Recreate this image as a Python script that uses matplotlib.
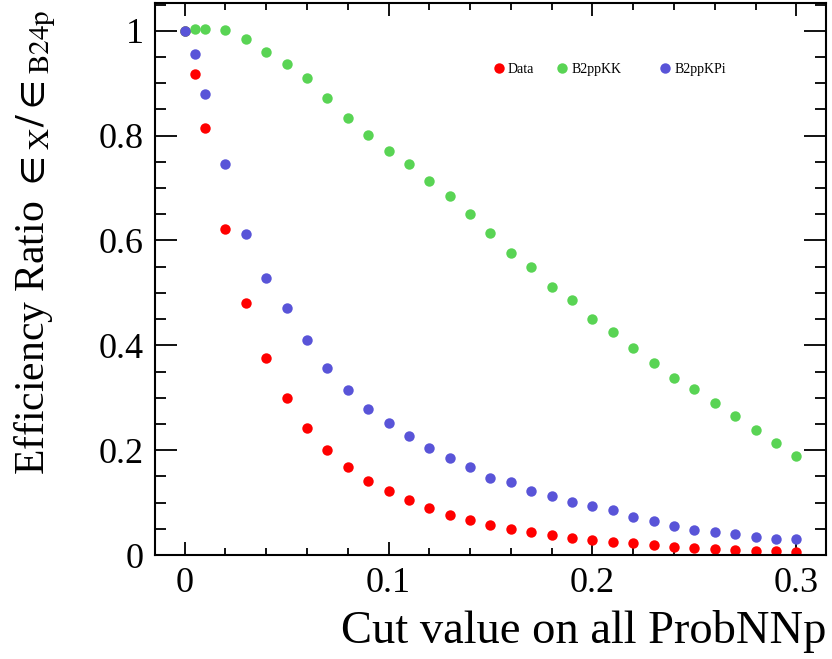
import matplotlib
matplotlib.use("Agg")
import matplotlib.pyplot as plt
from matplotlib.ticker import MultipleLocator
from matplotlib.legend import Legend

plt.rcParams["font.family"] = ["Liberation Serif", "DejaVu Serif"]
plt.rcParams["mathtext.fontset"] = "stix"

# --- dane ---
cut = [0.0, 0.005, 0.01, 0.02, 0.03, 0.04, 0.05, 0.06, 0.07, 0.08, 0.09, 0.10,
       0.11, 0.12, 0.13, 0.14, 0.15, 0.16, 0.17, 0.18, 0.19, 0.20, 0.21, 0.22,
       0.23, 0.24, 0.25, 0.26, 0.27, 0.28, 0.29, 0.30]

data = [1.0, 0.918, 0.815, 0.621, 0.480, 0.375, 0.299, 0.242, 0.200, 0.168,
        0.141, 0.122, 0.105, 0.090, 0.076, 0.067, 0.057, 0.050, 0.044, 0.038,
        0.032, 0.029, 0.025, 0.023, 0.019, 0.015, 0.013, 0.011, 0.010, 0.008,
        0.007, 0.006]

b2ppkk = [1.0, 1.003, 1.004, 1.002, 0.985, 0.960, 0.937, 0.910, 0.872, 0.834,
          0.802, 0.771, 0.745, 0.714, 0.684, 0.651, 0.615, 0.577, 0.549, 0.512,
          0.486, 0.451, 0.425, 0.394, 0.366, 0.337, 0.316, 0.290, 0.265, 0.238,
          0.213, 0.189]

b2ppkpi = [1.0, 0.956, 0.880, 0.745, 0.613, 0.528, 0.472, 0.410, 0.356, 0.314,
           0.278, 0.251, 0.227, 0.204, 0.185, 0.168, 0.147, 0.139, 0.122, 0.112,
           0.101, 0.093, 0.086, 0.072, 0.065, 0.055, 0.048, 0.044, 0.040, 0.034,
           0.030, 0.030]

series = [("Data", data, "#ff0000"),
          ("B2ppKK", b2ppkk, "#59d454"),
          ("B2ppKPi", b2ppkpi, "#5954d8")]

# pozycje legend (w ukladzie osi) - kazda seria osobno, jak w ROOT
legend_pos = [(0.504, 0.879), (0.599, 0.879), (0.752, 0.879)]

DPI = 100
fig = plt.figure(figsize=(8.32, 6.59), dpi=DPI)
ax = fig.add_axes([155 / 832, 104 / 659, 671 / 832, 552 / 659])

handles = []
for name, vals, col in series:
    h, = ax.plot(cut, vals, "o", color=col, ms=7.5, mew=0, label=name)
    handles.append(h)

for h, (lx, ly) in zip(handles, legend_pos):
    leg = Legend(ax, [h], [h.get_label()], loc="center left",
                 bbox_to_anchor=(lx, ly), frameon=False, fontsize=10,
                 handlelength=0.8, handletextpad=0.25, borderpad=0,
                 borderaxespad=0)
    ax.add_artist(leg)

ax.set_xlim(-0.0145, 0.3145)
ax.set_ylim(0, 1.053)

ax.xaxis.set_major_locator(MultipleLocator(0.1))
ax.xaxis.set_minor_locator(MultipleLocator(0.02))
ax.yaxis.set_major_locator(MultipleLocator(0.2))
ax.yaxis.set_minor_locator(MultipleLocator(0.05))
fmt = plt.FuncFormatter(lambda v, p: "0" if abs(v) < 1e-9 else f"{v:g}")
ax.xaxis.set_major_formatter(fmt)
ax.yaxis.set_major_formatter(fmt)

ax.tick_params(axis="both", which="both", direction="in", top=True, right=True,
               labelsize=26, width=1.3, color="black")
ax.tick_params(axis="x", which="major", length=9.5, pad=9)
ax.tick_params(axis="x", which="minor", length=4.7)
ax.tick_params(axis="y", which="major", length=15.8, pad=8)
ax.tick_params(axis="y", which="minor", length=7.9)
for s in ax.spines.values():
    s.set_linewidth(1.5)

fig.text(826 / 832, (659 - 643) / 659, "Cut value on all ProbNNp",
         ha="right", va="baseline", fontsize=33.5)
fig.text(0.043, (659 - 475) / 659,
         r"Efficiency Ratio $\in_{\mathrm{X}}/\in_{\mathrm{B24p}}$",
         rotation=90, ha="center", va="bottom", fontsize=30)

fig.savefig("out.png", dpi=DPI)
